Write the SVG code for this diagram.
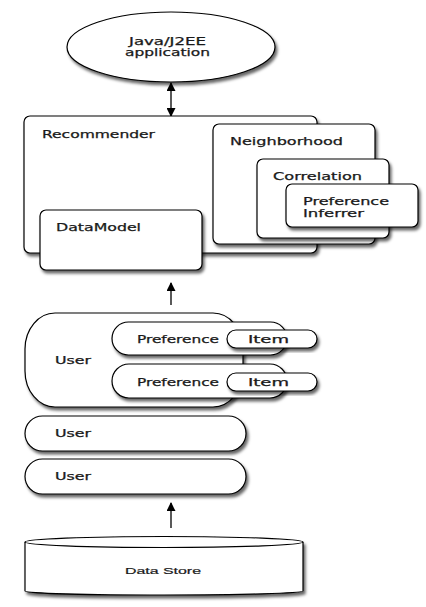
<svg xmlns="http://www.w3.org/2000/svg" width="426" height="607" viewBox="0 0 426 607">
<defs>
<filter id="sh" x="-10%" y="-10%" width="125%" height="135%">
<feDropShadow dx="2" dy="3" stdDeviation="1.8" flood-color="#000" flood-opacity="0.6"/>
</filter>
<marker id="ah" viewBox="0 0 10 10" refX="9" refY="5" markerWidth="11" markerHeight="9" markerUnits="userSpaceOnUse" orient="auto-start-reverse">
<path d="M0,0 L10,5 L0,10 Z" fill="#000"/>
</marker>
</defs>
<style>
.s{fill:#fff;stroke:#000;stroke-width:1.2;filter:url(#sh)}
.t{font-family:"DejaVu Sans",Verdana,sans-serif;font-size:9.8px;fill:#1a1a1a;stroke:#1a1a1a;stroke-width:0.25}
.d{font-family:"Liberation Sans",Arial,sans-serif;font-size:9.6px;fill:#1a1a1a;stroke:#1a1a1a;stroke-width:0.2}
.c{stroke:#000;stroke-width:1.3;fill:none}
</style>
<rect width="426" height="607" fill="#fff"/>
<g id="connectors">
<line class="c" x1="171" y1="83" x2="171" y2="116" marker-start="url(#ah)" marker-end="url(#ah)"/>
<line class="c" x1="171" y1="305" x2="171" y2="283" marker-end="url(#ah)"/>
<line class="c" x1="171" y1="528" x2="171" y2="503" marker-end="url(#ah)"/>
</g>
<g id="app">
<ellipse class="s" cx="171" cy="47" rx="104" ry="35"/>
<text class="t" x="167.5" y="45" text-anchor="middle" textLength="77" lengthAdjust="spacingAndGlyphs">Java/J2EE</text>
<text class="t" x="167.5" y="56" text-anchor="middle" textLength="85" lengthAdjust="spacingAndGlyphs">application</text>
</g>
<g id="recommender">
<rect class="s" x="24" y="116" width="293" height="137" rx="6"/>
<text class="t" x="42" y="137.5" textLength="113" lengthAdjust="spacingAndGlyphs">Recommender</text>
</g>
<g id="datamodel">
<rect class="s" x="40" y="210" width="162" height="60" rx="6"/>
<text class="t" x="56" y="231" textLength="85" lengthAdjust="spacingAndGlyphs">DataModel</text>
</g>
<g id="neighborhood">
<rect class="s" x="213" y="124" width="162" height="120" rx="6"/>
<text class="t" x="230" y="145" textLength="113" lengthAdjust="spacingAndGlyphs">Neighborhood</text>
</g>
<g id="correlation">
<rect class="s" x="257" y="159" width="132" height="79" rx="6"/>
<text class="t" x="273" y="179.5" textLength="89" lengthAdjust="spacingAndGlyphs">Correlation</text>
</g>
<g id="inferrer">
<rect class="s" x="286" y="184" width="132" height="43" rx="6"/>
<text class="t" x="303" y="205" textLength="86" lengthAdjust="spacingAndGlyphs">Preference</text>
<text class="t" x="303" y="217" textLength="61" lengthAdjust="spacingAndGlyphs">Inferrer</text>
</g>
<g id="user1">
<rect class="s" x="25" y="313" width="218" height="94" rx="30" ry="36"/>
<text class="t" x="55" y="364" textLength="36" lengthAdjust="spacingAndGlyphs">User</text>
</g>
<g id="pref1">
<rect class="s" x="112" y="322" width="175" height="33" rx="16.5"/>
<text class="t" x="137" y="343" textLength="82" lengthAdjust="spacingAndGlyphs">Preference</text>
</g>
<g id="item1">
<rect class="s" x="227" y="330" width="90" height="18" rx="9"/>
<text class="t" x="248" y="343" textLength="41" lengthAdjust="spacingAndGlyphs">Item</text>
</g>
<g id="pref2">
<rect class="s" x="112" y="364" width="175" height="34" rx="17"/>
<text class="t" x="137" y="385.5" textLength="82" lengthAdjust="spacingAndGlyphs">Preference</text>
</g>
<g id="item2">
<rect class="s" x="227" y="373" width="90" height="18" rx="9"/>
<text class="t" x="248" y="385.5" textLength="41" lengthAdjust="spacingAndGlyphs">Item</text>
</g>
<g id="user2">
<rect class="s" x="25" y="416" width="221" height="35" rx="17.5"/>
<text class="t" x="55" y="437" textLength="36" lengthAdjust="spacingAndGlyphs">User</text>
</g>
<g id="user3">
<rect class="s" x="25" y="459" width="221" height="35" rx="17.5"/>
<text class="t" x="55" y="480" textLength="36" lengthAdjust="spacingAndGlyphs">User</text>
</g>
<g id="datastore">
<path class="s" d="M25,542 L25,591 A139,4 0 0 0 303,591 L303,542 A139,5.5 0 0 0 25,542 Z"/>
<path d="M25,542 A139,5.5 0 0 0 303,542" fill="none" stroke="#000" stroke-width="1.2"/>
<text class="d" x="163" y="573.5" text-anchor="middle" textLength="76" lengthAdjust="spacingAndGlyphs">Data Store</text>
</g>
</svg>
